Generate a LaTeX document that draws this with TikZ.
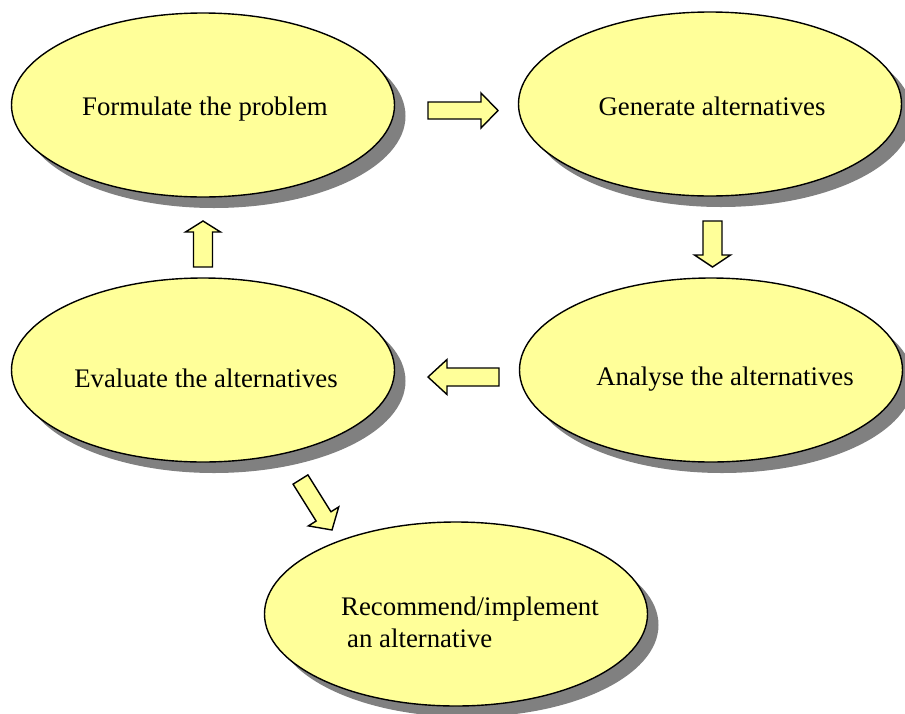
\documentclass[tikz,border=0pt]{standalone}
\usepackage{fontspec}
\setmainfont{Liberation Serif}
\usetikzlibrary{shapes.geometric,shadows}
\definecolor{ly}{RGB}{255,255,153}
\definecolor{shd}{RGB}{128,128,128}
% #1 name, #2 centre, #3 angle, #4 length, #5 shaft half width, #6 head half width, #7 head length
\newcommand{\blockarr}[7]{%
  \coordinate (#1) at #2;
  \draw[blk,shift={(#1)},rotate=#3]
    (-#4/2,-#5) -- (#4/2-#7,-#5) -- (#4/2-#7,-#6) -- (#4/2,0)
    -- (#4/2-#7,#6) -- (#4/2-#7,#5) -- (-#4/2,#5) -- cycle;}
\begin{document}
\begin{tikzpicture}[x=1pt,y=-1pt,
  ell/.style={ellipse,draw=black,line width=1.4pt,fill=ly,minimum width=383pt,
    minimum height=184pt,inner sep=0pt,
    drop shadow={shadow xshift=11pt,shadow yshift=-11pt,fill=shd,opacity=1}},
  lbl/.style={font=\fontsize{26.8}{32}\selectfont,anchor=base,inner sep=0pt},
  blk/.style={draw=black,line width=1.4pt,fill=ly,line join=miter}]
\useasboundingbox (0,0) rectangle (905,713);
\fill[white] (0,0) rectangle (905,713);
% ellipses
\node[ell] (e1) at (203,105) {};
\node[ell] (e2) at (710,104) {};
\node[ell] (e3) at (711,370) {};
\node[ell] (e4) at (203,370) {};
\node[ell] (e5) at (456,614) {};
% labels
\node[lbl] (t1) at (205,115) {Formulate the problem};
\node[lbl] (t2) at (712,115) {Generate alternatives};
\node[lbl] (t3) at (725,385) {Analyse the alternatives};
\node[lbl] (t4) at (206,387) {Evaluate the alternatives};
\node[lbl,anchor=base west] (t5a) at (341,615) {Recommend/implement};
\node[lbl,anchor=base west] (t5b) at (347,647) {an alternative};
% block arrows
\blockarr{a1}{(463,110.5)}{0}{70}{8.5}{17.5}{17}
\blockarr{a2}{(712.5,244)}{-90}{46}{9.5}{18}{12}
\blockarr{a3}{(463.5,377)}{180}{71}{9}{17.5}{19}
\blockarr{a4}{(203,244)}{90}{46}{9.5}{17.5}{11}
\blockarr{a5}{(316.25,504.75)}{-58}{59.5}{8.75}{17.9}{16}
\end{tikzpicture}
\end{document}
